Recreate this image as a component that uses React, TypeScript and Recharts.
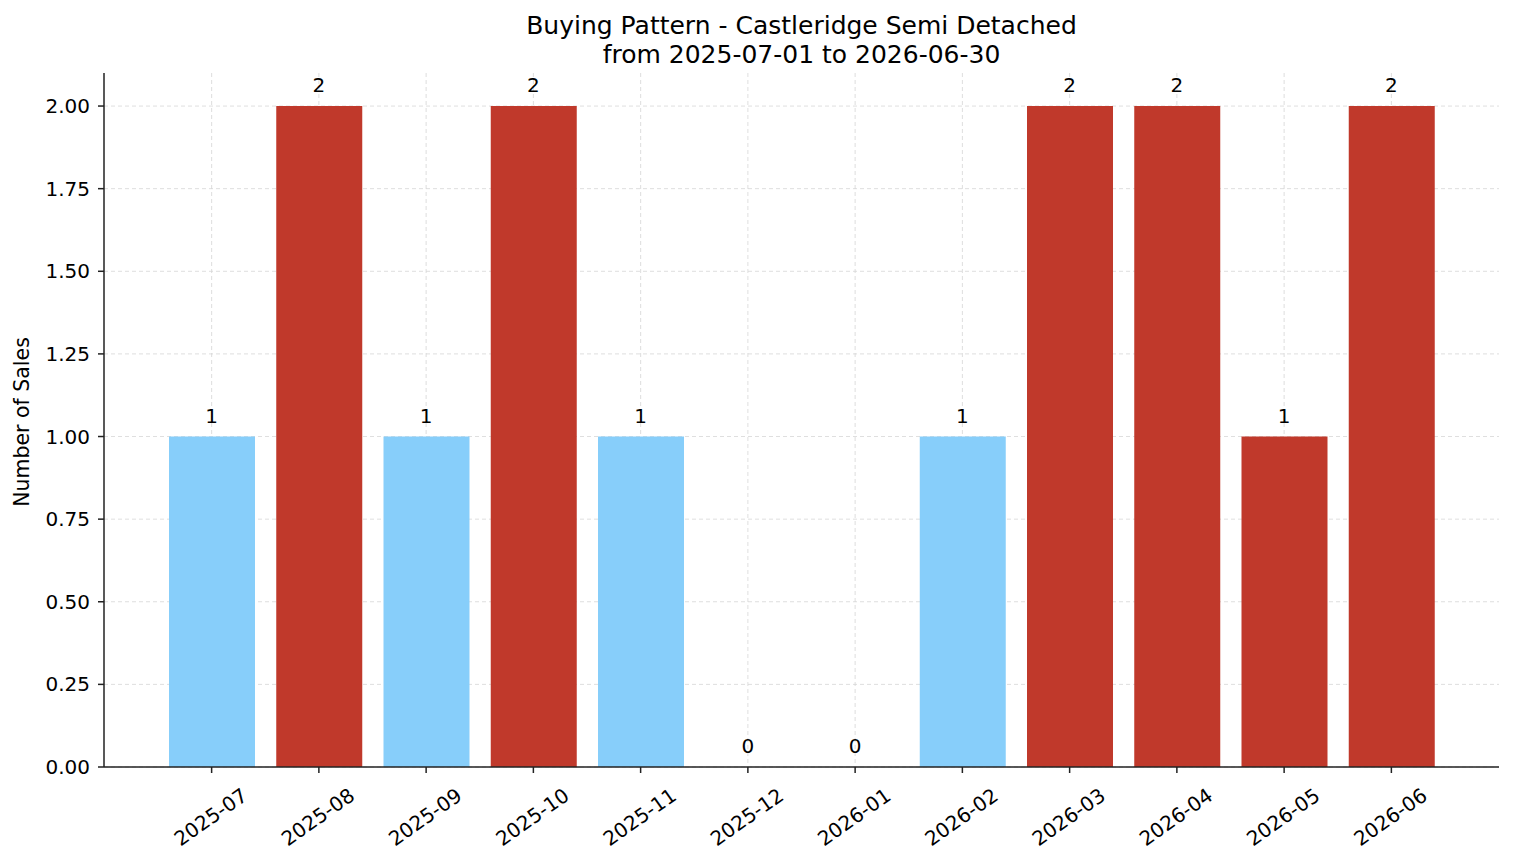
import { Bar, CartesianGrid, Cell, ComposedChart, LabelList, Line, XAxis, YAxis } from "recharts";

const months = [
  "2025-07", "2025-08", "2025-09", "2025-10", "2025-11", "2025-12",
  "2026-01", "2026-02", "2026-03", "2026-04", "2026-05", "2026-06",
];
const sales = [1, 2, 1, 2, 1, 0, 0, 1, 2, 2, 1, 2];
// months drawn in the darker colour
const highlighted = [false, true, false, true, false, false, false, false, true, true, true, true];
const yTicks = [0, 0.25, 0.5, 0.75, 1, 1.25, 1.5, 1.75, 2];

const titleLines = ["Buying Pattern - Castleridge Semi Detached", "from 2025-07-01 to 2026-06-30"];
const yLabel = "Number of Sales";

const data = months.map((month, i) => ({ month, sales: sales[i] }));

const FONT = "'DejaVu Sans', sans-serif";
const BLUE = "#87CEFA";
const RED = "#C0392B";

function MonthTick(props: any) {
  const { x, y, payload } = props;
  return (
    <g transform={`translate(${x - 1},${y + 42}) rotate(-35)`}>
      <text textAnchor="middle" dominantBaseline="central" fontSize={20} fontFamily={FONT} fill="#000">
        {payload.value}
      </text>
    </g>
  );
}

export default function App() {
  return (
    <div style={{ position: "relative", width: 1514, height: 863, margin: -8, background: "#fff", fontFamily: FONT }}>
      <div style={{ position: "absolute", left: 104, width: 1395, top: 11, textAlign: "center", fontSize: 25, lineHeight: "29px", color: "#000" }}>
        {titleLines.map((t) => (
          <div key={t}>{t}</div>
        ))}
      </div>
      <div
        style={{
          position: "absolute",
          left: 22,
          top: 422,
          transform: "translate(-50%, -50%) rotate(-90deg)",
          whiteSpace: "nowrap",
          fontSize: 20.5,
          color: "#000",
        }}
      >
        {yLabel}
      </div>
      <ComposedChart width={1514} height={863} data={data} margin={{ top: 73, right: 15, bottom: 0, left: 24 }}>
        <CartesianGrid stroke="#d6d6d6" strokeDasharray="4 3" strokeWidth={0.8} syncWithTicks />
        <XAxis
          dataKey="month"
          interval={0}
          height={96}
          padding={{ left: 54, right: 54 }}
          tick={<MonthTick />}
          tickSize={6}
          stroke="#222"
          strokeWidth={1.5}
          tickLine={{ stroke: "#222", strokeWidth: 1.5 }}
        />
        <YAxis
          width={80}
          domain={[0, 2.1]}
          ticks={yTicks}
          tickFormatter={(v: number) => v.toFixed(2)}
          tick={{ fontSize: 20, fontFamily: FONT, fill: "#000", dx: -6 }}
          tickSize={6}
          stroke="#222"
          strokeWidth={1.5}
          tickLine={{ stroke: "#222", strokeWidth: 1.5 }}
          allowDataOverflow
        />
        <Bar dataKey="sales" barSize={86} isAnimationActive={false}>
          {data.map((d, i) => (
            <Cell key={d.month} fill={highlighted[i] ? RED : BLUE} />
          ))}
        </Bar>
        <Line
          dataKey="sales"
          stroke="none"
          dot={false}
          activeDot={false}
          legendType="none"
          isAnimationActive={false}
        >
          <LabelList dataKey="sales" position="top" offset={14} fontSize={20} fontFamily={FONT} fill="#000" />
        </Line>
      </ComposedChart>
    </div>
  );
}
